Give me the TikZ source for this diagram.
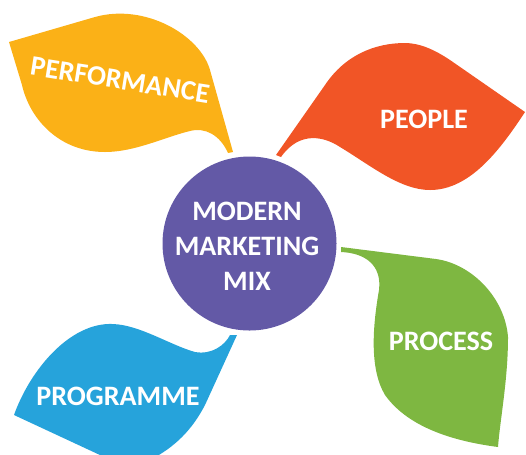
\documentclass[tikz,border=0pt]{standalone}
\usepackage{fontspec}
\setmainfont{Carlito}
\usepackage{tikz}

\definecolor{perfyellow}{RGB}{251,177,23}
\definecolor{peoplered}{RGB}{241,85,38}
\definecolor{processgreen}{RGB}{126,183,65}
\definecolor{progblue}{RGB}{38,163,219}
\definecolor{mixpurple}{RGB}{99,89,166}

\tikzset{
    leaftext/.style={text=white, font=\fontsize{16}{20}\selectfont\bfseries, inner sep=0pt},
}

\begin{document}
\begin{tikzpicture}[x=0.02cm, y=-0.02cm]
    \useasboundingbox (0,0) rectangle (526,454);
    \clip (0,0) rectangle (526,454);

    % leaves
    \fill[perfyellow] (9,42) -- (95,17) .. controls (145,3) and (200,35) .. (210,70) -- (233,152) -- (228,153)
        .. controls (220,135) and (205,127) .. (190,131) .. controls (165,137) and (135,152) .. (105,152)
        .. controls (60,152) and (30,120) .. (22,85) -- cycle;
    \fill[peoplered] (276,155) -- (325,85) .. controls (345,55) and (375,43) .. (405,43)
        .. controls (420,43) and (435,50) .. (450,60) -- (525,112) .. controls (500,150) and (470,190) .. (430,190)
        .. controls (400,190) and (370,165) .. (340,147) .. controls (325,137) and (300,130) .. (281,157) -- cycle;
    \fill[processgreen] (341,247) -- (436,259) .. controls (472,264) and (505,298) .. (508,337)
        .. controls (508,380) and (500,420) .. (498,447) .. controls (460,442) and (410,430) .. (385,395)
        .. controls (370,370) and (372,330) .. (379,290) .. controls (382,265) and (365,253) .. (341,252) -- cycle;
    \fill[progblue] (237,335) -- (205,405) .. controls (192,430) and (175,447) .. (150,460)
        .. controls (135,467) and (125,468) .. (115,462) -- (14,415) .. controls (30,370) and (70,322) .. (113,324)
        .. controls (140,325) and (170,345) .. (195,352) .. controls (212,355) and (225,345) .. (230,335) -- cycle;

    % centre
    \fill[mixpurple] (249.5,243.5) circle [radius=87];
    \node[leaftext, align=center] (mix) at (247,246) {MODERN\\MARKETING\\MIX};

    \node[leaftext, rotate=-9] (perf) at (120,80) {PERFORMANCE};
    \node[leaftext] (people) at (424,119) {PEOPLE};
    \node[leaftext] (process) at (441,341) {PROCESS};
    \node[leaftext] (prog) at (118,396) {PROGRAMME};
\end{tikzpicture}
\end{document}
